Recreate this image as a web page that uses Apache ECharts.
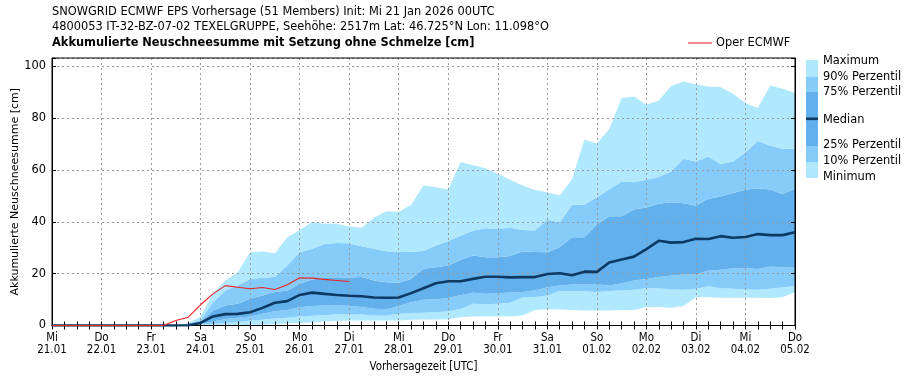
<!DOCTYPE html>
<html><head><meta charset="utf-8">
<script src="https://cdn.jsdelivr.net/npm/echarts@6/dist/echarts.min.js"></script>
<style>html,body{margin:0;padding:0;background:#fff}#c{width:909px;height:380px}</style>
</head><body><div id="c"></div>
<script>
// lead time in hours (6-hourly steps)
const leadHours = [0,6,12,18,24,30,36,42,48,54,60,66,72,78,84,90,96,102,108,114,120,126,132,138,144,150,156,162,168,174,180,186,192,198,204,210,216,222,228,234,240,246,252,258,264,270,276,282,288,294,300,306,312,318,324,330,336,342,348,354,360];
const dayLabels = ['Mi\n21.01','Do\n22.01','Fr\n23.01','Sa\n24.01','So\n25.01','Mo\n26.01','Di\n27.01','Mi\n28.01','Do\n29.01','Fr\n30.01','Sa\n31.01','So\n01.02','Mo\n02.02','Di\n03.02','Mi\n04.02','Do\n05.02'];
const yTicks = [0,20,40,60,80,100];

const minimum = [0,0,0,0,0,0,0,0,0,0,0,0,0,0,0.1,0.1,0.2,0.3,0.6,0.8,1.0,1.2,1.5,1.7,1.9,1.9,1.9,1.9,1.9,2.2,2.3,2.3,2.4,3.2,3.5,3.6,3.6,3.6,3.9,6.0,6.3,6.2,6.0,5.8,5.8,5.8,6.0,6.0,7.1,7.1,6.9,7.5,10.9,10.9,10.7,10.7,10.7,10.7,10.6,10.9,12.9];
const perc10  = [0,0,0,0,0,0,0,0,0,0,0,0,0.3,0.6,1.0,1.3,1.8,2.2,2.7,3.0,3.5,3.8,4.0,4.3,4.2,4.2,3.9,3.9,4.5,4.8,4.9,5.1,5.5,6.4,8.4,8.2,8.4,8.8,10.9,11.0,11.6,13.3,13.3,13.2,12.9,13.3,13.5,13.8,14.4,14.4,13.9,13.8,14.2,15.2,14.4,14.2,13.9,13.8,14.2,14.8,15.2];
const perc25  = [0,0,0,0,0,0,0,0,0,0,0,0,0.6,1.5,2.5,3.0,3.5,4.5,5.5,6.0,7.0,7.5,7.7,7.7,7.6,7.1,6.5,6.3,7.5,9.0,9.9,10.1,10.6,11.8,12.6,12.3,12.5,12.7,12.9,13.5,14.8,15.4,15.8,15.8,15.8,15.4,16.3,17.4,18.0,18.7,19.3,19.7,19.7,21.2,21.5,22.1,22.1,21.8,22.8,22.5,22.3];
const median  = [0,0,0,0,0,0,0,0,0,0,0,0.1,1.0,3.5,4.4,4.5,5.1,6.8,8.8,9.4,11.8,12.7,12.2,11.8,11.5,11.3,10.8,10.7,10.8,12.5,14.4,16.3,17.1,17.1,18.0,18.8,18.8,18.6,18.7,18.7,19.9,20.2,19.4,20.8,20.7,24.3,25.5,26.6,29.5,32.7,32.0,32.2,33.5,33.4,34.5,33.9,34.2,35.3,34.9,34.9,36.0];
const perc75  = [0,0,0,0,0,0,0,0,0,0,0,0.3,1.5,5.8,7.7,8.4,10.3,11.6,12.9,13.5,16.1,17.8,18.3,18.3,18.5,18.7,17.4,16.7,16.5,18.0,21.9,22.5,23.2,25.4,27.0,26.4,26.4,26.8,28.6,28.4,28.3,30.2,34.1,34.1,39.0,42.2,42.2,44.8,45.6,47.0,47.6,47.2,46.3,48.9,49.8,51.2,52.4,53.0,52.5,50.8,52.8];
const perc90  = [0,0,0,0,0,0,0,0,0,0,0,0.6,2.2,9.0,13.5,15.4,18.0,18.4,18.7,23.2,28.3,29.6,31.5,31.9,31.8,30.6,29.6,28.7,28.4,28.5,28.8,30.9,32.6,34.7,36.7,37.6,37.4,37.7,36.9,36.7,40.8,39.9,46.6,46.7,49.5,52.5,55.6,55.3,56.3,57.3,59.5,64.4,63.3,65.3,62.4,63.3,66.9,71.2,69.5,68.2,68.4];
const maximum = [0,0,0,0,0,0,0,0,0,0,0,1.0,3.5,12.5,17.4,20.6,28.3,28.6,27.9,34.1,36.9,39.9,39.3,39.3,38.2,37.7,41.6,44.1,43.8,46.6,54.1,53.4,52.5,63.1,61.9,60.7,58.6,56.3,54.1,52.3,51.5,50.2,56.6,71.8,70.2,75.9,87.9,88.4,85.2,86.9,92.5,94.2,93.1,92.3,92.0,89.5,85.8,84.0,92.7,91.4,89.8];
const operEcmwf = [0,0,0,0,0,0,0,0,0,0,1.9,3.2,8.0,12.2,15.4,14.8,14.2,14.7,13.9,15.7,18.4,18.3,17.8,17.4,17.0];

const C_LIGHT = '#b0e8fd', C_MID = '#86ccfa', C_DARK = '#63b1ec', C_MED = '#0c3a64', C_RED = '#ee2222';
const FONT = 'DejaVu Sans';
const FONT_C = "'DejaVu Sans Condensed', 'Liberation Sans Narrow', 'DejaVu Sans'";
const FS = 11.4;

function diff(upper, lower) { return upper.map((v, i) => +(v - lower[i]).toFixed(2)); }

const bandDefs = [
  ['base', minimum, null, null],
  ['Minimum', perc10, minimum, C_LIGHT],
  ['10%', perc25, perc10, C_MID],
  ['25%', median, perc25, C_DARK],
  ['75%', perc75, median, C_DARK],
  ['90%', perc90, perc75, C_MID],
  ['Maximum', maximum, perc90, C_LIGHT]
];
const series = bandDefs.map(([name, up, lo, col]) => ({
  name, type: 'line', stack: 'ens', stackStrategy: 'all', symbol: 'none', silent: true,
  data: lo ? diff(up, lo) : up.slice(),
  lineStyle: { width: 0, opacity: 0 },
  areaStyle: col ? { color: col, opacity: 1 } : { opacity: 0 },
  z: 2
}));
series.push({ name: 'Median', type: 'line', symbol: 'none', data: median,
  lineStyle: { color: C_MED, width: 2.6 }, z: 10 });
series.push({ name: 'Oper ECMWF', type: 'line', symbol: 'none', data: operEcmwf,
  lineStyle: { color: C_RED, width: 1.1 }, z: 11 });

const gridLine = { show: true, interval: 3, lineStyle: { color: '#999', type: [2, 3], width: 1 } };
const tickIn = { show: true, inside: true, length: 4, interval: 0, lineStyle: { color: '#000' } };

// legend bar graphics
const legX = 806, legW = 12;
const legendBlocks = [
  [60, 76.5, C_LIGHT], [76.5, 92, C_MID], [92, 146, C_DARK], [146, 162, C_MID], [162, 178, C_LIGHT]
];
const legendTexts = [['Maximum', 61], ['90% Perzentil', 77], ['75% Perzentil', 92.5], ['Median', 120], ['25% Perzentil', 145], ['10% Perzentil', 161], ['Minimum', 177]];
const graphics = [];
legendBlocks.forEach(([y0, y1, c]) => graphics.push({ type: 'rect', shape: { x: legX, y: y0, width: legW, height: y1 - y0 }, style: { fill: c }, silent: true }));
graphics.push({ type: 'rect', shape: { x: legX, y: 117.5, width: legW, height: 2.6 }, style: { fill: C_MED }, silent: true });
legendTexts.forEach(([t, y]) => graphics.push({ type: 'text', x: 823, y, style: { text: t, fill: '#000', font: FS + 'px ' + FONT, textVerticalAlign: 'middle' }, silent: true }));
// titles
graphics.push({ type: 'text', x: 52, y: 12, style: { text: 'SNOWGRID ECMWF EPS Vorhersage (51 Members) Init: Mi 21 Jan 2026 00UTC', fill: '#000', font: FS + 'px ' + FONT, textVerticalAlign: 'middle' } });
graphics.push({ type: 'text', x: 52, y: 27, style: { text: '4800053 IT-32-BZ-07-02 TEXELGRUPPE, Seehöhe: 2517m Lat: 46.725°N Lon: 11.098°O', fill: '#000', font: FS + 'px ' + FONT, textVerticalAlign: 'middle' } });
graphics.push({ type: 'text', x: 52, y: 43, style: { text: 'Akkumulierte Neuschneesumme mit Setzung ohne Schmelze [cm]', fill: '#000', font: 'bold ' + FS + 'px ' + FONT, textVerticalAlign: 'middle' } });
// oper legend
graphics.push({ type: 'line', shape: { x1: 688, y1: 43, x2: 712, y2: 43 }, style: { stroke: C_RED, lineWidth: 1.1 } });
graphics.push({ type: 'text', x: 716, y: 43, style: { text: 'Oper ECMWF', fill: '#000', font: FS + 'px ' + FONT, textVerticalAlign: 'middle' } });

const cats = leadHours.map(String);
const chart = echarts.init(document.getElementById('c'), null, { renderer: 'canvas' });
chart.setOption({
  animation: false,
  backgroundColor: '#fff',
  grid: { left: 52, right: 114, top: 58, bottom: 54.5, show: true, borderColor: '#000', borderWidth: 1, backgroundColor: 'transparent', outerBoundsMode: 'none', containLabel: false, z: 6 },
  xAxis: [{
    type: 'category', data: cats, boundaryGap: false, z: 5,
    axisLine: { show: true, lineStyle: { color: '#000' } },
    axisTick: tickIn, splitLine: gridLine,
    axisLabel: { interval: 3, formatter: (v, i) => dayLabels[i / 4] || '', color: '#000', fontFamily: FONT_C, fontSize: FS, lineHeight: 12, margin: 7 },
    name: 'Vorhersagezeit [UTC]', nameLocation: 'middle', nameGap: 36, nameMoveOverlap: false,
    nameTextStyle: { color: '#000', fontFamily: FONT_C, fontSize: FS }
  }, {
    type: 'category', data: cats, boundaryGap: false, position: 'top', z: 5,
    axisLine: { show: true, lineStyle: { color: '#000' } },
    axisTick: tickIn, splitLine: { show: false }, axisLabel: { show: false }
  }],
  yAxis: [{
    type: 'value', min: 0, max: 103.3, interval: 20, z: 5,
    axisLine: { show: true, lineStyle: { color: '#000' } },
    axisTick: { show: true, inside: true, length: 4, lineStyle: { color: '#000' } },
    splitLine: { show: true, lineStyle: { color: '#999', type: [2, 3], width: 1 } },
    axisLabel: { formatter: v => yTicks.includes(v) ? String(v) : '', color: '#000', fontFamily: FONT, fontSize: FS, margin: 6 },
    name: 'Akkumulierte Neuschneesumme [cm]', nameLocation: 'middle', nameGap: 31, nameMoveOverlap: false,
    nameTextStyle: { color: '#000', fontFamily: FONT, fontSize: 11 }
  }, {
    type: 'value', min: 0, max: 103.3, interval: 20, position: 'right', z: 5,
    axisLine: { show: true, lineStyle: { color: '#000' } },
    axisTick: { show: true, inside: true, length: 4, lineStyle: { color: '#000' } },
    splitLine: { show: false }, axisLabel: { show: false }
  }],
  series,
  graphic: graphics
});
</script></body></html>
